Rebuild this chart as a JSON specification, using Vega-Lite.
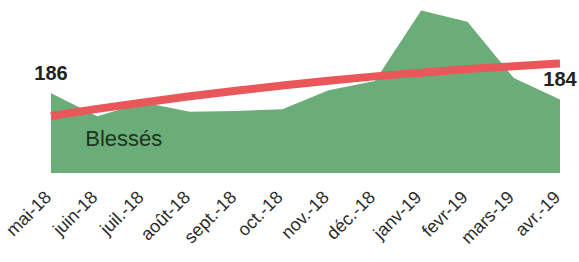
{
  "$schema": "https://vega.github.io/schema/vega-lite/v6.json",
  "width": 509,
  "height": 173,
  "autosize": {"type": "none"},
  "padding": {"left": 51, "top": 0, "right": 19, "bottom": 89},
  "background": "white",
  "config": {"view": {"stroke": null}, "font": "Liberation Sans"},
  "datasets": {
    "blesses": [
      {"mois": "mai-18", "blesses": 186, "tendance": 178.6, "label": "186"},
      {"mois": "juin-18", "blesses": 178.5, "tendance": 180.9, "label": null},
      {"mois": "juil.-18", "blesses": 183, "tendance": 183.0, "label": null},
      {"mois": "août-18", "blesses": 180, "tendance": 185.0, "label": null},
      {"mois": "sept.-18", "blesses": 180.2, "tendance": 186.8, "label": null},
      {"mois": "oct.-18", "blesses": 180.8, "tendance": 188.5, "label": null},
      {"mois": "nov.-18", "blesses": 187, "tendance": 190.1, "label": null},
      {"mois": "déc.-18", "blesses": 190, "tendance": 191.5, "label": null},
      {"mois": "janv-19", "blesses": 213, "tendance": 192.7, "label": null},
      {"mois": "fevr-19", "blesses": 209.3, "tendance": 193.9, "label": null},
      {"mois": "mars-19", "blesses": 191, "tendance": 194.8, "label": null},
      {"mois": "avr.-19", "blesses": 184, "tendance": 195.7, "label": "184"}
    ],
    "annotation": [
      {"mois": "juin-18", "y": 168.8, "texte": "Blessés"}
    ]
  },
  "encoding": {
    "x": {
      "field": "mois",
      "type": "nominal",
      "sort": null,
      "scale": {"type": "point", "padding": 0},
      "axis": {
        "title": null,
        "domain": false,
        "ticks": false,
        "grid": false,
        "labelAngle": -45,
        "labelFontSize": 18,
        "labelColor": "#2b2b2b",
        "labelPadding": 15,
        "labelOffset": -9,
        "labelFont": "Liberation Sans"
      }
    }
  },
  "layer": [
    {
      "data": {"name": "blesses"},
      "mark": {"type": "area", "color": "#6aad78", "opacity": 1},
      "encoding": {
        "y": {"field": "blesses", "type": "quantitative", "scale": {"domain": [160, 216.4], "nice": false, "zero": false}, "axis": null},
        "y2": {"datum": 160}
      }
    },
    {
      "data": {"name": "blesses"},
      "mark": {"type": "line", "color": "#e9575a", "strokeWidth": 8, "interpolate": "monotone", "strokeCap": "butt"},
      "encoding": {
        "y": {"field": "tendance", "type": "quantitative"}
      }
    },
    {
      "data": {"name": "blesses"},
      "transform": [{"filter": "datum.label != null"}],
      "mark": {"type": "text", "fontSize": 20, "fontWeight": "bold", "color": "#222222", "align": "center", "baseline": "alphabetic", "dy": -13},
      "encoding": {
        "y": {"field": "blesses", "type": "quantitative"},
        "text": {"field": "label"}
      }
    },
    {
      "data": {"name": "annotation"},
      "mark": {"type": "text", "fontSize": 22, "color": "#1f3320", "align": "left", "baseline": "alphabetic", "dx": -12},
      "encoding": {
        "y": {"field": "y", "type": "quantitative"},
        "text": {"field": "texte"}
      }
    }
  ]
}
